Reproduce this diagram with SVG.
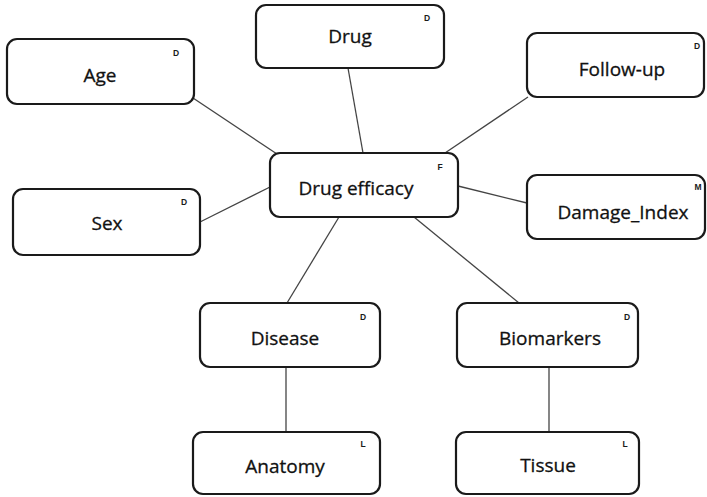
<svg xmlns="http://www.w3.org/2000/svg" width="707" height="497" viewBox="0 0 707 497">
<style>
.box{fill:#fff;stroke:#1a1a1a;stroke-width:2.2}
.lbl{font-family:"Open Sans","Liberation Sans",sans-serif;font-size:19px;fill:#111;stroke:#111;stroke-width:0.3;text-anchor:middle}
.tag{font-family:"Liberation Sans",sans-serif;font-size:8.5px;font-weight:bold;fill:#1a1a1a;text-anchor:middle}
.conn line{stroke:#444;stroke-width:1.3}
</style>
<rect width="707" height="497" fill="#fff"/>
<g class="conn" id="connectors">
<line x1="193" y1="98" x2="277" y2="154"/>
<line x1="348" y1="68" x2="363" y2="153"/>
<line x1="528" y1="97" x2="445" y2="153"/>
<line x1="200" y1="222" x2="270" y2="187"/>
<line x1="458" y1="186" x2="527" y2="203"/>
<line x1="339" y1="217" x2="287" y2="303"/>
<line x1="414" y1="217" x2="519" y2="303"/>
<line x1="286" y1="367" x2="286" y2="432"/>
<line x1="549" y1="367" x2="549" y2="432"/>
</g>
<g id="age"><rect class="box" x="7" y="39" width="187" height="65" rx="10"/><text class="lbl" x="100" y="82">Age</text><text class="tag" x="176" y="56">D</text></g>
<g id="drug"><rect class="box" x="256" y="5" width="188" height="63" rx="10"/><text class="lbl" x="350" y="43">Drug</text><text class="tag" x="427" y="21">D</text></g>
<g id="followup"><rect class="box" x="527" y="33" width="177" height="64" rx="10"/><text class="lbl" x="622" y="76">Follow-up</text><text class="tag" x="697" y="49">D</text></g>
<g id="drugefficacy"><rect class="box" x="270" y="153" width="188" height="64" rx="10"/><text class="lbl" x="356" y="195">Drug efficacy</text><text class="tag" x="440" y="170">F</text></g>
<g id="sex"><rect class="box" x="13" y="189" width="187" height="66" rx="10"/><text class="lbl" x="107" y="230">Sex</text><text class="tag" x="184" y="205">D</text></g>
<g id="damageindex"><rect class="box" x="527" y="175" width="178" height="64" rx="10"/><text class="lbl" x="623" y="219">Damage_Index</text><text class="tag" x="698" y="190">M</text></g>
<g id="disease"><rect class="box" x="200" y="303" width="180" height="64" rx="10"/><text class="lbl" x="285" y="345">Disease</text><text class="tag" x="363" y="320">D</text></g>
<g id="biomarkers"><rect class="box" x="457" y="303" width="181" height="64" rx="10"/><text class="lbl" x="550" y="345">Biomarkers</text><text class="tag" x="627" y="320">D</text></g>
<g id="anatomy"><rect class="box" x="193" y="432" width="187" height="62" rx="10"/><text class="lbl" x="285" y="473">Anatomy</text><text class="tag" x="363" y="447">L</text></g>
<g id="tissue"><rect class="box" x="456" y="432" width="183" height="62" rx="10"/><text class="lbl" x="548" y="472">Tissue</text><text class="tag" x="625" y="447">L</text></g>
</svg>
